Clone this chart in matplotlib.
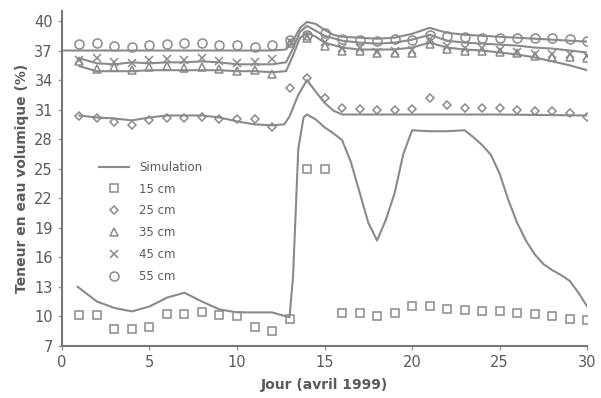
import matplotlib
matplotlib.use("Agg")
import matplotlib.pyplot as plt

days = list(range(1, 31))

# Observations
obs_15 = [10.1, 10.1, 8.7, 8.7, 8.9, 10.2, 10.2, 10.4, 10.1, 10.0, 8.9, 8.5, 9.7,
          25.0, 25.0, 10.3, 10.3, 10.0, 10.3, 11.0, 11.0, 10.7, 10.6, 10.5, 10.5,
          10.3, 10.2, 10.0, 9.7, 9.6]
obs_25 = [30.3, 30.1, 29.7, 29.4, 29.9, 30.1, 30.1, 30.2, 30.0, 30.0, 30.0, 29.2,
          33.2, 34.2, 32.2, 31.2, 31.1, 31.0, 31.0, 31.1, 32.2, 31.5, 31.2, 31.2,
          31.2, 31.0, 30.9, 30.9, 30.7, 30.2]
obs_35 = [35.9, 35.1, 35.3, 35.0, 35.3, 35.4, 35.2, 35.3, 35.1, 34.9, 35.0, 34.6,
          37.8, 38.3, 37.5, 37.0, 37.0, 36.7, 36.7, 36.7, 37.7, 37.2, 37.0, 37.0,
          36.9, 36.7, 36.4, 36.3, 36.3, 36.2]
obs_45 = [36.0, 36.2, 35.8, 35.7, 36.0, 36.1, 36.0, 36.2, 35.9, 35.7, 35.8, 36.1,
          38.0, 38.5, 37.9, 37.3, 37.3, 36.8, 37.0, 37.1, 38.2, 37.5, 37.3, 37.3,
          37.1, 36.9, 36.6, 36.6, 36.6, 36.4]
obs_55 = [37.7, 37.8, 37.5, 37.4, 37.6, 37.7, 37.8, 37.8, 37.6, 37.6, 37.4, 37.6,
          38.1, 38.6, 38.8, 38.2, 38.1, 38.0, 38.2, 38.1, 38.6, 38.5, 38.4, 38.3,
          38.3, 38.3, 38.3, 38.3, 38.2, 38.0]

# Simulations
sim15_x = [0.9, 2, 3, 4, 5, 6, 7, 8, 9, 10, 11, 12, 13, 13.2, 13.5, 13.8, 14, 14.5,
           15, 15.5, 16, 16.5, 17, 17.5, 18, 18.5, 19, 19.5, 20, 21, 22, 23, 23.5,
           24, 24.5, 25, 25.5, 26, 26.5, 27, 27.5, 28, 28.5, 29, 29.5, 30]
sim15_y = [13.0, 11.5, 10.85, 10.5, 11.0, 11.9, 12.4, 11.5, 10.7, 10.4, 10.4, 10.4,
           9.9, 14.0, 27.0, 30.2, 30.5, 30.0, 29.2, 28.6, 27.9, 25.7, 22.6, 19.5,
           17.7, 19.8, 22.5, 26.5, 28.9, 28.8, 28.8, 28.9, 28.2, 27.4, 26.4, 24.5,
           21.8, 19.5, 17.7, 16.3, 15.3, 14.7, 14.2, 13.6, 12.4, 11.0]
sim25_x = [1, 2, 3, 4, 5, 6, 7, 8, 9, 10, 11, 12, 12.7, 13, 13.5, 14, 14.5, 15,
           15.5, 16, 20, 25, 30]
sim25_y = [30.4, 30.2, 30.1, 29.9, 30.2, 30.4, 30.4, 30.4, 30.2, 29.8, 29.5, 29.4,
           29.5, 30.3, 32.5, 34.0, 32.8, 31.7, 30.9, 30.5, 30.5, 30.5, 30.4]
sim35_x = [1, 2, 3, 4, 5, 6, 7, 8, 9, 10, 11, 12, 12.8, 13.2, 13.6, 14, 14.5, 15,
           16, 17, 18, 19, 20, 21, 22, 23, 24, 25, 26, 27, 28, 29, 30]
sim35_y = [35.4, 34.9, 34.9, 34.9, 35.0, 35.0, 35.0, 35.0, 35.0, 34.9, 34.9, 34.8,
           34.9, 36.5, 38.3, 38.8, 38.4, 37.8, 37.3, 37.1, 37.1, 37.1, 37.3, 37.8,
           37.3, 37.1, 37.0, 36.8, 36.6, 36.3, 35.9, 35.5, 35.0]
sim45_x = [1, 2, 3, 4, 5, 6, 7, 8, 9, 10, 11, 12, 12.8, 13.2, 13.6, 14, 14.5, 15,
           16, 17, 18, 19, 20, 21, 22, 23, 24, 25, 26, 27, 28, 29, 30]
sim45_y = [36.2, 35.7, 35.6, 35.8, 35.7, 35.8, 35.8, 35.9, 35.8, 35.6, 35.6, 35.6,
           35.8, 37.2, 38.9, 39.5, 39.0, 38.5, 38.0, 37.8, 37.7, 37.8, 38.1, 38.6,
           38.0, 37.8, 37.7, 37.6, 37.5, 37.3, 37.2, 37.0, 36.8]
sim55_x = [0, 2, 4, 6, 8, 10, 12, 12.8, 13.2, 13.6, 14, 14.5, 15, 15.5, 16, 17, 18,
           19, 20, 21, 22, 23, 24, 25, 26, 27, 28, 29, 30]
sim55_y = [37.0, 37.0, 37.0, 37.0, 37.0, 37.0, 37.0, 37.1, 38.0, 39.3, 39.9, 39.7,
           39.1, 38.6, 38.4, 38.3, 38.2, 38.3, 38.7, 39.3, 38.8, 38.6, 38.5, 38.4,
           38.3, 38.2, 38.1, 38.0, 37.9]

xticks = [0, 5, 10, 15, 20, 25, 30]
yticks = [7, 10, 13, 16, 19, 22, 25, 28, 31, 34, 37, 40]
xlabel = "Jour (avril 1999)"
ylabel = "Teneur en eau volumique (%)"
labels = ["Simulation", "15 cm", "25 cm", "35 cm", "45 cm", "55 cm"]

grey = "#8a8a8a"
txt = "#5a5a5a"

fig = plt.figure(figsize=(6.01, 3.98), dpi=100)
ax = fig.add_axes([0.103, 0.131, 0.874, 0.841])

lw = 1.5
line_handle, = ax.plot(sim15_x, sim15_y, color=grey, lw=lw)
for sx, sy in [(sim25_x, sim25_y), (sim35_x, sim35_y), (sim45_x, sim45_y), (sim55_x, sim55_y)]:
    ax.plot(sx, sy, color=grey, lw=lw)

mk = dict(linestyle="none", mfc="none", mec=grey, mew=1.1)
h15, = ax.plot(days, obs_15, marker="s", ms=6, **mk)
h25, = ax.plot(days, obs_25, marker="D", ms=4.5, **mk)
h35, = ax.plot(days, obs_35, marker="^", ms=6, **mk)
h45, = ax.plot(days, obs_45, marker="x", ms=6, **mk)
h55, = ax.plot(days, obs_55, marker="o", ms=6.5, **mk)

ax.set_xlim(0, 30)
ax.set_ylim(7, 41)
ax.set_xticks(xticks)
ax.set_yticks(yticks)
for s in ["top", "right"]:
    ax.spines[s].set_visible(False)
for s in ["left", "bottom"]:
    ax.spines[s].set_color("#777777")
    ax.spines[s].set_linewidth(1.5)
ax.tick_params(colors="#999999", labelcolor=txt, labelsize=10.5, length=3, width=1)
ax.set_xlabel(xlabel, fontsize=10, fontweight="bold", color=txt, labelpad=6)
ax.set_ylabel(ylabel, fontsize=10, fontweight="bold", color=txt, labelpad=4)

ax.legend([line_handle, h15, h25, h35, h45, h55], labels, loc="upper left",
          bbox_to_anchor=(0.05, 0.585), frameon=False, fontsize=8.5,
          labelcolor=txt, handlelength=2.6, labelspacing=0.75, handletextpad=0.8)

fig.savefig("out.png", dpi=100)
